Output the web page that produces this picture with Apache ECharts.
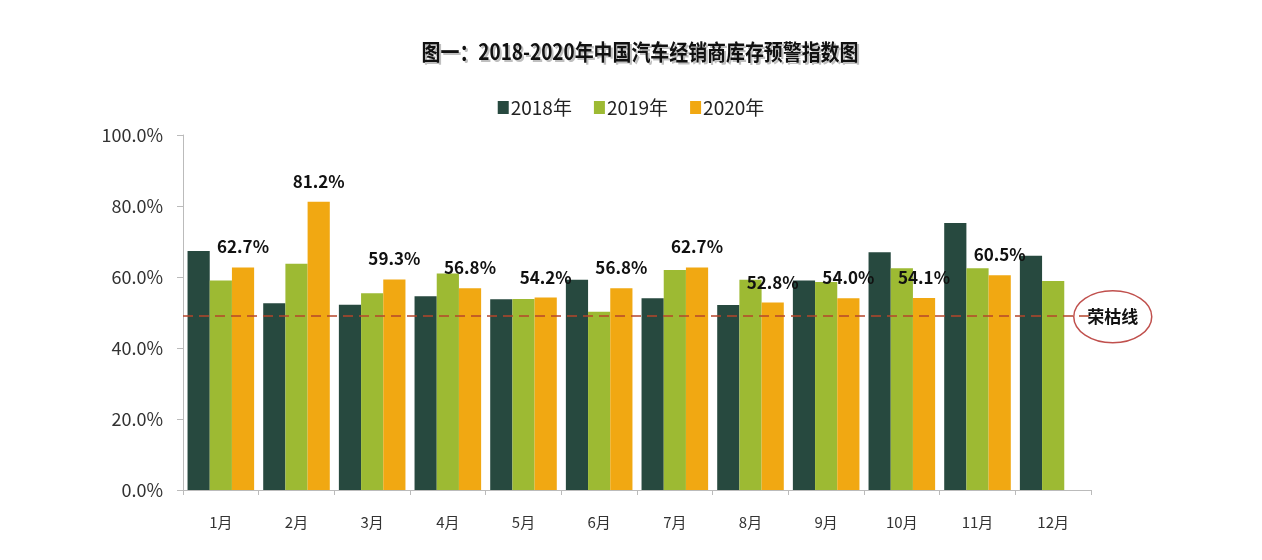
<!DOCTYPE html>
<html><head><meta charset="utf-8">
<script src="https://cdn.jsdelivr.net/npm/echarts@6/dist/echarts.min.js"></script>
<style>html,body{margin:0;padding:0;background:#fff}#c{width:1262px;height:560px}</style>
</head><body><div id="c"></div>
<script>
const months = ['1月','2月','3月','4月','5月','6月','7月','8月','9月','10月','11月','12月'];
const s2018 = [67.3, 52.6, 52.2, 54.6, 53.7, 59.2, 54.0, 52.1, 59.0, 67.0, 75.2, 66.0];
const s2019 = [59.0, 63.7, 55.4, 61.0, 53.8, 50.2, 62.0, 59.2, 58.6, 62.5, 62.5, 58.9];
const s2020 = [62.7, 81.2, 59.3, 56.8, 54.2, 56.8, 62.7, 52.8, 54.0, 54.1, 60.5, null];
const yTicks = [0, 20, 40, 60, 80, 100];
const lineValue = 49;
const lineName = '荣枯线';
const titleText = '图一：2018-2020年中国汽车经销商库存预警指数图';
const seriesNames = ['2018年','2019年','2020年'];
const colors = ['#27493f','#9dba33','#f1a812'];

const chart = echarts.init(document.getElementById('c'));
const font = '"Noto Sans CJK SC", "Noto Sans", sans-serif';
chart.setOption({
  animation: false,
  backgroundColor: '#fff',
  legend: {
    top: 93, left: 'center', itemGap: 22, itemWidth: 11, itemHeight: 13,
    icon: 'rect',
    textStyle: {fontFamily: font, fontSize: 19, color: '#222', padding: [0,0,0,-3]},
    data: seriesNames
  },
  grid: {left: 183, right: 171, top: 135, bottom: 70},
  xAxis: {
    type: 'category', data: months,
    axisLine: {lineStyle: {color: '#bbb'}},
    axisTick: {show: true, length: 5, lineStyle: {color: '#bbb'}},
    axisLabel: {fontFamily: font, fontSize: 15, color: '#333', margin: 25}
  },
  yAxis: {
    type: 'value', min: yTicks[0], max: yTicks[yTicks.length - 1], interval: yTicks[1] - yTicks[0],
    axisLine: {show: true, lineStyle: {color: '#bbb'}},
    axisTick: {show: true, length: 6, lineStyle: {color: '#bbb'}},
    splitLine: {show: false},
    axisLabel: {fontFamily: font, fontSize: 18, color: '#333', margin: 20,
      formatter: v => v.toFixed(1) + '%'}
  },
  series: [
    {name: seriesNames[0], type: 'bar', data: s2018, itemStyle: {color: colors[0]},
     barGap: '0%', barCategoryGap: '12%',
     markLine: {silent: true, symbol: 'none', label: {show: false},
       lineStyle: {color: '#b5452b', type: [10, 6], width: 1.5},
       data: [{yAxis: lineValue}]}},
    {name: seriesNames[1], type: 'bar', data: s2019, itemStyle: {color: colors[1]},
     barGap: '0%', barCategoryGap: '12%'},
    {name: seriesNames[2], type: 'bar', data: s2020, itemStyle: {color: colors[2]},
     barGap: '0%', barCategoryGap: '12%',
     label: {show: true, position: 'top', distance: 12,
       fontFamily: font, fontSize: 17, fontWeight: 'bold', color: '#111',
       formatter: p => p.value == null ? '' : p.value.toFixed(1) + '%'}}
  ]
});
const ly = chart.convertToPixel({yAxisIndex: 0}, lineValue);
chart.setOption({
  graphic: [
    {type: 'text', x: 642, y: 54, scaleX: 0.86,
     style: {text: titleText, fontFamily: font, fontSize: 22, fontWeight: 'bold', fill: 'rgba(0,0,0,0.25)',
       align: 'center', verticalAlign: 'middle'}},
    {type: 'text', x: 640, y: 52, scaleX: 0.86,
     style: {text: titleText, fontFamily: font, fontSize: 22, fontWeight: 'bold', fill: '#111',
       align: 'center', verticalAlign: 'middle'}},
    {type: 'group', left: 1073, top: ly - 26,
     children: [
      {type: 'ellipse', shape: {cx: 40, cy: 26, rx: 39, ry: 26},
       style: {fill: '#fff', stroke: '#c0504d', lineWidth: 1.5}},
      {type: 'text', x: 40, y: 26,
       style: {text: lineName, fontFamily: font, fontSize: 17, fontWeight: 'bold', fill: '#111',
         align: 'center', verticalAlign: 'middle'}}
     ]}
  ]
});
</script></body></html>
